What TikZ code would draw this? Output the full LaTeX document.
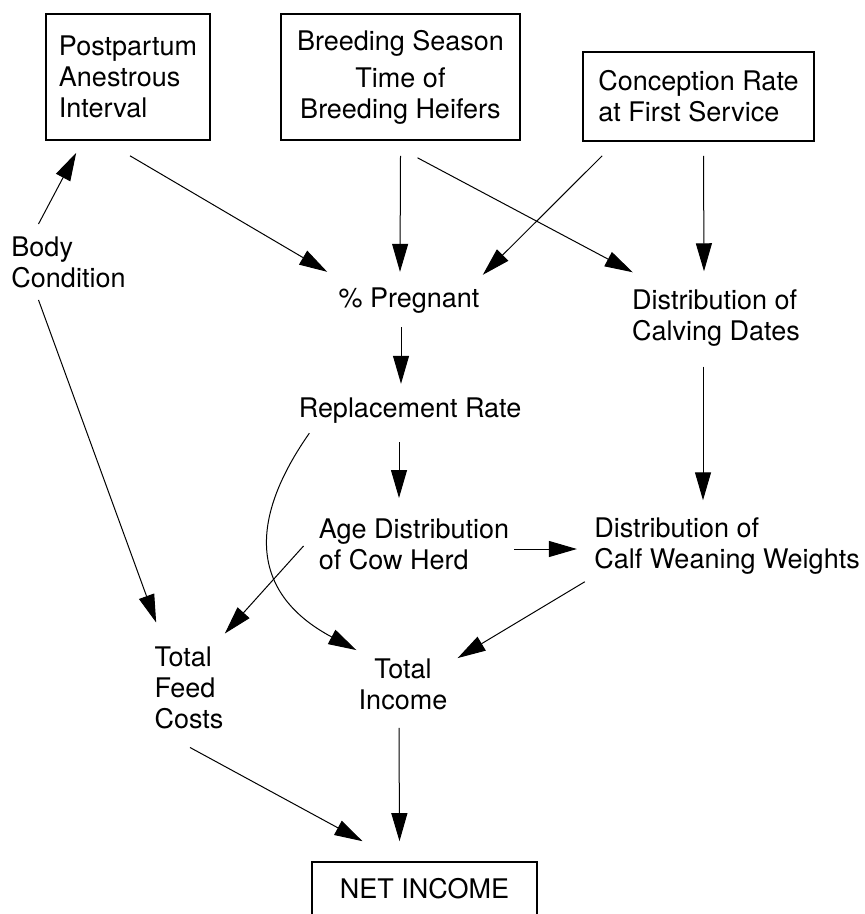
\documentclass[tikz,border=0pt]{standalone}
\usepackage{fontspec}
\setmainfont{TeX Gyre Heros}
\usetikzlibrary{calc,arrows.meta}

\begin{document}
\begin{tikzpicture}[x=0.5pt,y=-0.5pt,
    font=\fontsize{13.5}{15.5}\selectfont,
    box/.style={draw, line width=0.8pt, inner sep=0pt},
    txt/.style={inner sep=0pt, align=left},
    arr/.style={-{Triangle[length=14pt,width=8pt]}, line width=0.5pt}]
  \useasboundingbox (0,0) rectangle (864,914);

  % boxes along the top
  \node[box, minimum width=82pt, minimum height=63pt, align=left] (post) at (128,77) {Postpartum\\Anestrous\\Interval};
  \node[box, minimum width=119.5pt, minimum height=63pt, align=center] (breed) at (400.5,77) {Breeding Season\\[3pt]Time of\\Breeding Heifers};
  \node[box, minimum width=115.5pt, minimum height=44.5pt, align=left] (conc) at (698.5,96.5) {Conception Rate\\at First Service};

  % plain labels
  \node[txt] (body) at (68.5,262) {Body\\Condition};
  \node[txt] (preg) at (409,301) {\% Pregnant};
  \node[txt] (calv) at (716,318) {Distribution of\\Calving Dates};
  \node[txt] (repl) at (410,411) {Replacement Rate};
  \node[txt] (age) at (414,544) {Age Distribution\\of Cow Herd};
  \node[txt] (wean) at (727,546) {Distribution of\\Calf Weaning Weights};
  \node[txt] (feed) at (189,688) {Total\\Feed\\Costs};
  \node[txt, align=center] (inc) at (403,684) {Total\\Income};

  \node[box, minimum width=112.5pt, minimum height=27pt] (net) at (424.5,889) {NET INCOME};

  \draw[arr] ($(body.north)+(-30,-12)$) -- ($(post.south west)+(31,12)$);
  \draw[arr] ($(post.south)+(2,15)$) -- ($(preg.north west)+(-11,-16)$);
  \draw[arr] ($(breed.south)+(0,15)$) -- ($(preg.north)+(-9,-16)$);
  \draw[arr] ($(breed.south)+(17,17)$) -- ($(calv.north west)+(1,-17)$);
  \draw[arr] ($(conc.south west)+(20,14)$) -- ($(preg.north east)+(3,-13)$);
  \draw[arr] ($(conc.south)+(5,14)$) -- ($(calv.north)+(-12,-18)$);
  \draw[arr] ($(preg.south)+(-8,13)$) -- ($(repl.north)+(-9,-14)$);
  \draw[arr] ($(repl.south)+(-11,18)$) -- ($(age.north)+(-15,-20)$);
  \draw[arr] ($(repl.south west)+(11,9)$) .. controls +(125:120) and +(208:110) .. ($(inc.north west)+(-2,-8)$);
  \draw[arr] ($(age.east)+(5,5)$) -- ($(wean.west)+(-17,3)$);
  \draw[arr] ($(age.west)+(-15,2)$) -- ($(feed.north east)+(1,-13)$);
  \draw[arr] ($(body.south)+(-30,12)$) -- ($(feed.north west)+(2,-24)$);
  \draw[arr] ($(calv.south)+(-13,20)$) -- ($(wean.north)+(-24,-17)$);
  \draw[arr] ($(wean.south west)+(-9,7)$) -- ($(inc.north east)+(10,0)$);
  \draw[arr] ($(feed.south)+(1,18)$) -- ($(net.north)+(-62,-20)$);
  \draw[arr] ($(inc.south)+(-4,18)$) -- ($(net.north)+(-25,-20)$);
\end{tikzpicture}
\end{document}
